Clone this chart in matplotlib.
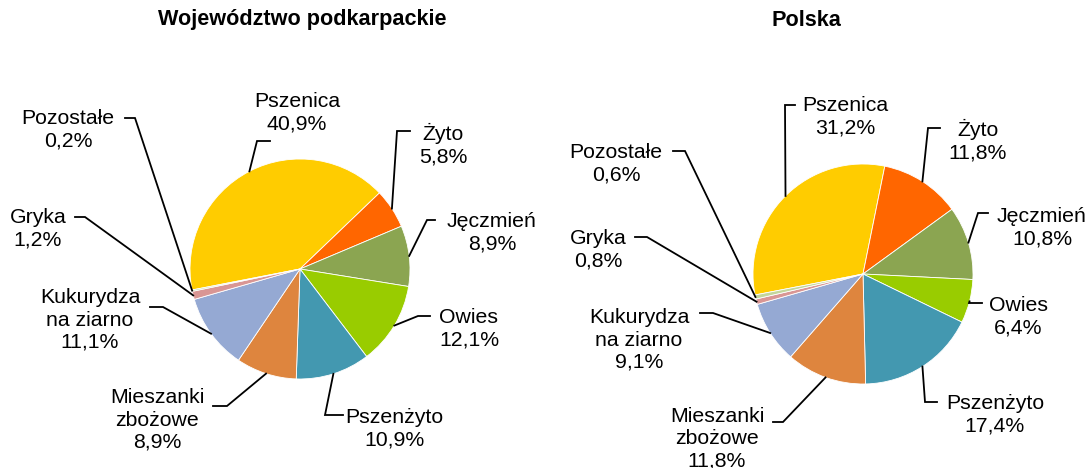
import matplotlib
matplotlib.use("Agg")
import matplotlib.pyplot as plt
import numpy as np

plt.rcParams["font.family"] = ["Liberation Sans", "DejaVu Sans"]

# --- data ---------------------------------------------------------------
categories = ["Pszenica", "Żyto", "Jęczmień", "Owies", "Pszenżyto",
              "Mieszanki\nzbożowe", "Kukurydza\nna ziarno", "Gryka", "Pozostałe"]
podkarpackie = [40.9, 5.8, 8.9, 12.1, 10.9, 8.9, 11.1, 1.2, 0.2]
polska = [31.2, 11.8, 10.8, 6.4, 17.4, 11.8, 9.1, 0.8, 0.6]
titles = ["Województwo podkarpackie", "Polska"]

colors = ["#FFCC00", "#FF6600", "#8BA551", "#99CC00", "#4398B0",
          "#DE853E", "#95A9D3", "#D99694", "#C3D69B"]

W, H = 1090, 468

# layout (pixel coords, y from top): pie centre, label centre, elbow, line end
pie_layout = [
    dict(center=(300, 269), r=110, title_x=302,
         text=[(297, 113), (443, 145), (492, 233), (469, 329), (394, 429),
               (157, 420), (90, 320), (38, 229), (68, 130)],
         elbow=[(257, 141), (397, 131), (427, 220), (418, 316), (325, 415),
                (227, 406), (163, 307), (85, 217), (135, 118)],
         end=[(270, 141), (410, 131), (435, 220), (430, 316), (343, 415),
              (213, 406), (150, 307), (75, 217), (125, 118)]),
    dict(center=(863, 274), r=110, title_x=806,
         text=[(845, 117), (978, 141), (1042, 228), (1018, 317), (995, 415),
               (717, 439), (639, 340), (598, 250), (616, 164)],
         elbow=[(785, 105), (928, 128), (978, 213), (969, 303), (925, 402),
                (783, 422), (713, 313), (647, 237), (685, 151)],
         end=[(795, 105), (940, 128), (988, 213), (982, 303), (937, 402),
              (773, 422), (700, 313), (635, 237), (673, 151)]),
]


def px(p):
    return (p[0], H - p[1])


fig = plt.figure(figsize=(W / 100, H / 100), dpi=100)
ax = fig.add_axes([0, 0, 1, 1])

for values, title, lay in zip([podkarpackie, polska], titles, pie_layout):
    c = px(lay["center"])
    r = lay["r"]
    wedges, _ = ax.pie(values, colors=colors, startangle=191, counterclock=False,
                       center=c, radius=r,
                       wedgeprops=dict(edgecolor="white", linewidth=0.6))
    for w, name, val, tpos, el, en in zip(wedges, categories, values,
                                          lay["text"], lay["elbow"], lay["end"]):
        mid = np.deg2rad((w.theta1 + w.theta2) / 2)
        anchor = (c[0] + r * np.cos(mid), c[1] + r * np.sin(mid))
        e1, e2 = px(el), px(en)
        ax.plot([anchor[0], e1[0], e2[0]], [anchor[1], e1[1], e2[1]],
                color="black", lw=1.3, solid_joinstyle="miter")
        label = f"{name}\n{val:.1f}%".replace(".", ",")
        ax.text(*px(tpos), label, ha="center", va="center", fontsize=15.3,
                linespacing=1.22)
    ax.text(lay["title_x"], H - 20, title, ha="center", va="center",
            fontsize=15.6, fontweight="bold")

ax.set_xlim(0, W)
ax.set_ylim(0, H)
ax.set_aspect("equal")
ax.axis("off")

fig.savefig("out.png", dpi=100)
